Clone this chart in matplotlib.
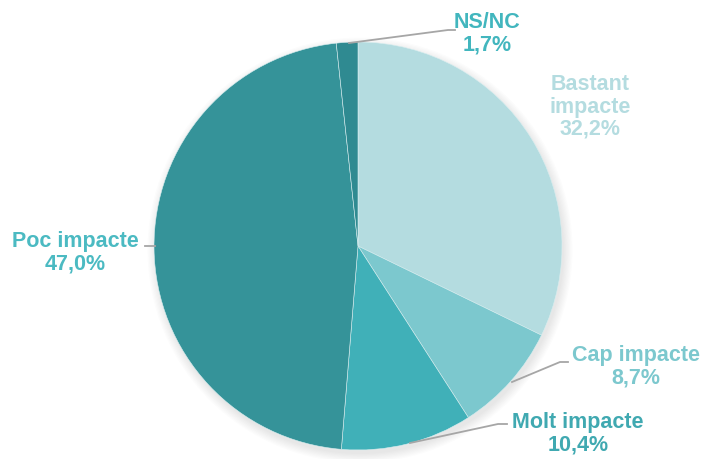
import matplotlib.pyplot as plt
from matplotlib.patches import Ellipse

plt.rcParams['font.family'] = ['Liberation Sans', 'DejaVu Sans']

# --- data ---
labels = ["Bastant\nimpacte", "Cap impacte", "Molt impacte", "Poc impacte", "NS/NC"]
values = [32.2, 8.7, 10.4, 47.0, 1.7]
colors = ["#B4DCE0", "#7CC8CE", "#40B0B8", "#359399", "#2F8A91"]
text_colors = ["#B4DCE0", "#7CC8CE", "#40A9B1", "#4BBAC2", "#42B6BE"]

W, H = 705, 459
cx, cy, R = 358, 246, 204

fig = plt.figure(figsize=(W / 100, H / 100), dpi=100)
ax = fig.add_axes([0, 0, 1, 1])


def px(x, y):
    return (x - cx) / R, (cy - y) / R


# soft shadow under the pie
for i in range(8):
    ax.add_patch(Ellipse((0.01, -0.02), 2.0 + 0.012 * i, 2.0 + 0.012 * i,
                         color="black", alpha=0.012, lw=0, zorder=0))

ax.pie(values, colors=colors, startangle=90, counterclock=False, radius=1,
       wedgeprops=dict(edgecolor="#d8eef0", linewidth=0.4))

# --- labels with leader lines ---
label_pos = [(590, 107), (636, 367), (578, 434), (75, 253), (487, 34)]
leaders = [
    None,
    [(512, 382), (560, 362), (568, 362)],
    [(410, 443), (498, 424), (507, 424)],
    [(155, 246), (145, 246)],
    [(349, 43), (448, 30), (455, 30)],
]

for lab, val, tc, pos, ld in zip(labels, values, text_colors, label_pos, leaders):
    x, y = px(*pos)
    txt = f"{lab}\n{val:.1f}%".replace(".", ",")
    ax.text(x, y, txt, ha="center", va="center", color=tc, fontsize=15.5,
            fontweight="bold", linespacing=1.08)
    if ld:
        pts = [px(*p) for p in ld]
        ax.plot([p[0] for p in pts], [p[1] for p in pts], color="#A6A6A6",
                lw=1.3, zorder=5)

ax.set_xlim(-cx / R, (W - cx) / R)
ax.set_ylim(-(H - cy) / R, cy / R)
ax.set_aspect("equal")
ax.axis("off")

plt.savefig("out.png", dpi=100)
